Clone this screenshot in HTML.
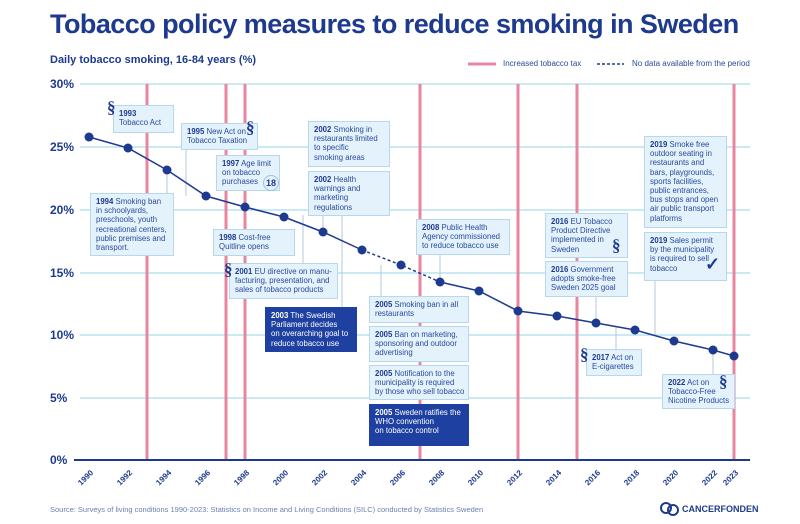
<!DOCTYPE html>
<html><head><meta charset="utf-8"><style>
body{margin:0;width:800px;height:524px;background:#fff;position:relative;overflow:hidden;font-family:"Liberation Sans",sans-serif;color:#1d3a8f}
.t{position:absolute;left:50px;top:9px;font-size:27px;font-weight:bold;color:#1d3a8f;letter-spacing:-0.55px}
.sub{position:absolute;left:50px;top:54px;font-size:11px;font-weight:bold}
.b{position:absolute;background:#e4f2fc;border:1px solid #b7d7ee;font-size:7.8px;line-height:9.2px;padding:3px 5px;box-sizing:border-box;color:#2a4a9a;overflow:hidden;white-space:nowrap}
.b b{color:#1d3a8f}
.d{background:#1e40a0;border-color:#1e40a0;color:#fff}
.d b{color:#fff}
.yl{position:absolute;left:50px;font-size:12px;font-weight:bold}
.xl{position:absolute;font-size:8px;font-weight:bold;transform:rotate(-45deg);transform-origin:right center;width:30px;text-align:right}
.sec{position:absolute;font-size:17px;font-weight:bold;color:#1d3a8f;font-family:"Liberation Serif",serif}
</style></head><body>
<div class="t">Tobacco policy measures to reduce smoking in Sweden</div>
<div class="sub">Daily tobacco smoking, 16-84 years (%)</div>
<svg width="800" height="524" style="position:absolute;left:0;top:0">
<g stroke="#a9dcef" stroke-width="1.3">
<line x1="80" x2="750" y1="84" y2="84"/><line x1="80" x2="750" y1="147" y2="147"/><line x1="80" x2="750" y1="210" y2="210"/><line x1="80" x2="750" y1="273" y2="273"/><line x1="80" x2="750" y1="335" y2="335"/><line x1="80" x2="750" y1="398" y2="398"/>
</g>
<g stroke="#e8859f" stroke-width="3">
<line x1="147" x2="147" y1="84" y2="460"/><line x1="226" x2="226" y1="84" y2="460"/><line x1="245" x2="245" y1="84" y2="460"/><line x1="420" x2="420" y1="84" y2="460"/><line x1="518" x2="518" y1="84" y2="460"/><line x1="577" x2="577" y1="84" y2="460"/><line x1="734" x2="734" y1="84" y2="460"/>
<line x1="468" x2="496" y1="64" y2="64"/>
</g>
<line x1="597" x2="624" y1="64" y2="64" stroke="#1d3a8f" stroke-width="1.5" stroke-dasharray="3,2"/>
<g stroke="#b7c7d8" stroke-width="1">
<line x1="167" x2="167" y1="170" y2="193"/><line x1="186" x2="186" y1="149" y2="196"/><line x1="303" x2="303" y1="215" y2="263"/><line x1="342" x2="342" y1="215" y2="307"/><line x1="323" x2="323" y1="215" y2="232"/><line x1="381" x2="381" y1="265" y2="296"/><line x1="440" x2="440" y1="254" y2="282"/><line x1="596" x2="596" y1="296" y2="323"/><line x1="616" x2="616" y1="327" y2="350"/><line x1="655" x2="655" y1="280" y2="336"/><line x1="713" x2="713" y1="350" y2="376"/>
</g>
<polyline fill="none" stroke="#1d3a8f" stroke-width="1.5" points="89,137 128,148 167,170 206,196 245,207 284,217 323,232 362,250"/>
<polyline fill="none" stroke="#1d3a8f" stroke-width="1.5" stroke-dasharray="3,2.5" points="362,250 401,265 440,282"/>
<polyline fill="none" stroke="#1d3a8f" stroke-width="1.5" points="440,282 479,291 518,311 557,316 596,323 635,330 674,341 713,350 734,356"/>
<g fill="#1d3a8f">
<circle cx="89" cy="137" r="4.5"/><circle cx="128" cy="148" r="4.5"/><circle cx="167" cy="170" r="4.5"/><circle cx="206" cy="196" r="4.5"/><circle cx="245" cy="207" r="4.5"/><circle cx="284" cy="217" r="4.5"/><circle cx="323" cy="232" r="4.5"/><circle cx="362" cy="250" r="4.5"/><circle cx="401" cy="265" r="4.5"/><circle cx="440" cy="282" r="4.5"/><circle cx="479" cy="291" r="4.5"/><circle cx="518" cy="311" r="4.5"/><circle cx="557" cy="316" r="4.5"/><circle cx="596" cy="323" r="4.5"/><circle cx="635" cy="330" r="4.5"/><circle cx="674" cy="341" r="4.5"/><circle cx="713" cy="350" r="4.5"/><circle cx="734" cy="356" r="4.5"/>
</g>
<line x1="74" x2="750" y1="460" y2="460" stroke="#1d3a8f" stroke-width="2"/>
<g fill="none" stroke="#1d3a8f" stroke-width="1">
<circle cx="666" cy="508" r="5" stroke-width="2"/><circle cx="673" cy="510" r="5" stroke-width="2"/>
</g>
</svg>
<div style="position:absolute;left:503px;top:59px;font-size:8px;color:#2a4a9a">Increased tobacco tax</div>
<div style="position:absolute;left:632px;top:59px;font-size:8px;color:#2a4a9a">No data available from the period</div>
<div class="yl" style="top:77px">30%</div><div class="yl" style="top:140px">25%</div><div class="yl" style="top:203px">20%</div><div class="yl" style="top:266px">15%</div><div class="yl" style="top:328px">10%</div><div class="yl" style="top:391px">5%</div><div class="yl" style="top:453px">0%</div>
<div class="xl" style="left:62px;top:467px">1990</div><div class="xl" style="left:101px;top:467px">1992</div><div class="xl" style="left:140px;top:467px">1994</div><div class="xl" style="left:179px;top:467px">1996</div><div class="xl" style="left:218px;top:467px">1998</div><div class="xl" style="left:257px;top:467px">2000</div><div class="xl" style="left:296px;top:467px">2002</div><div class="xl" style="left:335px;top:467px">2004</div><div class="xl" style="left:374px;top:467px">2006</div><div class="xl" style="left:413px;top:467px">2008</div><div class="xl" style="left:452px;top:467px">2010</div><div class="xl" style="left:491px;top:467px">2012</div><div class="xl" style="left:530px;top:467px">2014</div><div class="xl" style="left:569px;top:467px">2016</div><div class="xl" style="left:608px;top:467px">2018</div><div class="xl" style="left:647px;top:467px">2020</div><div class="xl" style="left:686px;top:467px">2022</div><div class="xl" style="left:707px;top:467px">2023</div>

<div class="b" style="left:113px;top:105px;width:61px;height:28px"><b>1993</b><br>Tobacco Act</div><div class="sec" style="left:107px;top:98px">§</div>
<div class="b" style="left:181px;top:123px;width:77px;height:27px"><b>1995</b> New Act on<br>Tobacco Taxation</div><div class="sec" style="left:246px;top:118px">§</div>
<div class="b" style="left:216px;top:155px;width:64px;height:36px"><b>1997</b> Age limit<br>on tobacco<br>purchases</div>
<div style="position:absolute;left:263px;top:175px;width:14px;height:14px;border:1px solid #9fc0e0;border-radius:50%;font-size:9px;font-weight:bold;text-align:center;line-height:14px">18</div>
<div class="b" style="left:90px;top:193px;width:84px;height:63px"><b>1994</b> Smoking ban<br>in schoolyards,<br>preschools, youth<br>recreational centers,<br>public premises and<br>transport.</div>
<div class="b" style="left:213px;top:229px;width:82px;height:27px"><b>1998</b> Cost-free<br>Quitline opens</div>
<div class="b" style="left:229px;top:263px;width:109px;height:36px"><b>2001</b> EU directive on manu-<br>facturing, presentation, and<br>sales of tobacco products</div><div class="sec" style="left:224px;top:260px">§</div>
<div class="b" style="left:308px;top:121px;width:82px;height:46px"><b>2002</b> Smoking in<br>restaurants limited<br>to specific<br>smoking areas</div>
<div class="b" style="left:308px;top:171px;width:82px;height:45px"><b>2002</b> Health<br>warnings and<br>marketing<br>regulations</div>
<div class="b d" style="left:265px;top:307px;width:92px;height:45px"><b>2003</b> The Swedish<br>Parliament decides<br>on overarching goal to<br>reduce tobacco use</div>
<div class="b" style="left:369px;top:296px;width:100px;height:27px"><b>2005</b> Smoking ban in all<br>restaurants</div>
<div class="b" style="left:369px;top:326px;width:100px;height:36px"><b>2005</b> Ban on marketing,<br>sponsoring and outdoor<br>advertising</div>
<div class="b" style="left:369px;top:365px;width:100px;height:35px"><b>2005</b> Notification to the<br>municipality is required<br>by those who sell tobacco</div>
<div class="b d" style="left:369px;top:404px;width:100px;height:42px"><b>2005</b> Sweden ratifies the<br>WHO convention<br>on tobacco control</div>
<div class="b" style="left:416px;top:219px;width:94px;height:36px"><b>2008</b> Public Health<br>Agency commissioned<br>to reduce tobacco use</div>
<div class="b" style="left:545px;top:213px;width:83px;height:45px"><b>2016</b> EU Tobacco<br>Product Directive<br>implemented in<br>Sweden</div><div class="sec" style="left:612px;top:236px">§</div>
<div class="b" style="left:545px;top:261px;width:83px;height:36px"><b>2016</b> Government<br>adopts smoke-free<br>Sweden 2025 goal</div>
<div class="b" style="left:644px;top:136px;width:83px;height:92px"><b>2019</b> Smoke free<br>outdoor seating in<br>restaurants and<br>bars, playgrounds,<br>sports facilities,<br>public entrances,<br>bus stops and open<br>air public transport<br>platforms</div>
<div class="b" style="left:644px;top:232px;width:83px;height:49px"><b>2019</b> Sales permit<br>by the municipality<br>is required to sell<br>tobacco</div><div style="position:absolute;left:705px;top:254px;font-size:18px;font-weight:bold">✓</div>
<div class="b" style="left:586px;top:349px;width:56px;height:27px"><b>2017</b> Act on<br>E-cigarettes</div><div class="sec" style="left:580px;top:345px">§</div>
<div class="b" style="left:662px;top:374px;width:73px;height:35px"><b>2022</b> Act on<br>Tobacco-Free<br>Nicotine Products</div><div class="sec" style="left:719px;top:372px">§</div>
<div style="position:absolute;left:50px;top:505px;font-size:7.5px;color:#6b80b0">Source: Surveys of living conditions 1990-2023: Statistics on Income and Living Conditions (SILC) conducted by Statistics Sweden</div>
<div style="position:absolute;left:682px;top:504px;font-size:9px;font-weight:bold">CANCERFONDEN</div>
</body></html>
